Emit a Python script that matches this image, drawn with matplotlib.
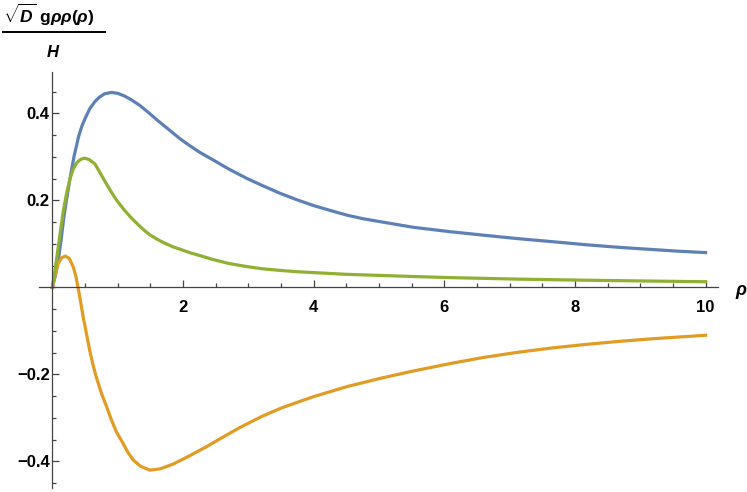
import numpy as np
import matplotlib.pyplot as plt
from matplotlib.lines import Line2D

# values
rho_blue = [0, 0.05, 0.09, 0.13, 0.17, 0.22, 0.27, 0.33, 0.40, 0.45, 0.50, 0.57, 0.65,
            0.72, 0.80, 0.905, 1.0, 1.1, 1.2, 1.34, 1.47, 1.6, 1.78, 1.95, 2.1, 2.26,
            2.46, 2.7, 2.97, 3.2, 3.49, 3.75, 4.0, 4.25, 4.51, 4.75, 5.02, 5.53, 6.09,
            6.6, 7.13, 7.66, 8.17, 8.68, 9.19, 9.6, 10.0]
g_blue = [0, 0.03, 0.063, 0.105, 0.155, 0.205, 0.25, 0.30, 0.346, 0.370, 0.388, 0.410,
          0.427, 0.437, 0.445, 0.448, 0.446, 0.440, 0.432, 0.418, 0.402, 0.385, 0.363,
          0.342, 0.326, 0.310, 0.293, 0.272, 0.251, 0.235, 0.216, 0.201, 0.188, 0.177,
          0.166, 0.158, 0.151, 0.138, 0.128, 0.120, 0.112, 0.105, 0.098, 0.092, 0.087,
          0.083, 0.080]

rho_orange = [0, 0.04, 0.09, 0.14, 0.20, 0.26, 0.32, 0.36, 0.40, 0.44, 0.47, 0.52, 0.57,
              0.62, 0.67, 0.75, 0.83, 0.9, 0.98, 1.08, 1.16, 1.24, 1.35, 1.49, 1.65,
              1.85, 2.1, 2.36, 2.6, 2.87, 3.2, 3.49, 3.75, 4.0, 4.51, 5.02, 5.53, 6.09,
              6.6, 7.13, 7.66, 8.17, 8.68, 9.19, 10.0]
g_orange = [0, 0.028, 0.055, 0.068, 0.072, 0.066, 0.047, 0.025, -0.006, -0.040, -0.067,
            -0.105, -0.144, -0.177, -0.205, -0.243, -0.274, -0.303, -0.332, -0.358,
            -0.380, -0.397, -0.411, -0.420, -0.417, -0.406, -0.387, -0.366, -0.345,
            -0.322, -0.297, -0.278, -0.264, -0.251, -0.228, -0.209, -0.192, -0.175,
            -0.161, -0.149, -0.139, -0.131, -0.124, -0.118, -0.110]

rho_green = [0, 0.05, 0.09, 0.13, 0.17, 0.22, 0.27, 0.32, 0.37, 0.43, 0.49, 0.56, 0.65,
             0.75, 0.85, 0.97, 1.1, 1.2, 1.3, 1.4, 1.49, 1.6, 1.7, 1.85, 1.95, 2.1,
             2.26, 2.46, 2.7, 2.97, 3.2, 3.49, 3.75, 4.0, 4.51, 5.02, 5.53, 6.09, 7.13,
             8.17, 9.19, 10.0]
g_green = [0, 0.05, 0.093, 0.137, 0.178, 0.218, 0.25, 0.272, 0.286, 0.294, 0.297, 0.294,
           0.284, 0.258, 0.232, 0.203, 0.178, 0.161, 0.146, 0.132, 0.121, 0.111, 0.103,
           0.093, 0.088, 0.080, 0.073, 0.064, 0.055, 0.048, 0.043, 0.039, 0.036, 0.034,
           0.030, 0.0275, 0.025, 0.0225, 0.019, 0.0165, 0.0145, 0.013]

xticks = [2, 4, 6, 8, 10]
yticks = [-0.4, -0.2, 0.2, 0.4]
ytick_labels = ['\u22120.4', '\u22120.2', '0.2', '0.4']

plt.rcParams['font.family'] = ['Liberation Sans', 'DejaVu Sans']
plt.rcParams['font.weight'] = 'bold'
plt.rcParams['mathtext.fontset'] = 'custom'
plt.rcParams['mathtext.rm'] = 'Liberation Sans:bold'
plt.rcParams['mathtext.it'] = 'Liberation Sans:italic:bold'
plt.rcParams['mathtext.bf'] = 'Liberation Sans:bold'

W, H = 747, 492
fig = plt.figure(figsize=(W / 100, H / 100), dpi=100)
ax = fig.add_axes([39 / W, 1 - 488 / H, (718 - 39) / W, (488 - 72) / H])

lw = 2.3
ax.plot(rho_blue, g_blue, color='#5E81B5', lw=lw)
ax.plot(rho_orange, g_orange, color='#E19C24', lw=lw)
ax.plot(rho_green, g_green, color='#8FB032', lw=lw)

ax.set_xlim(-0.205, 10.19)
ax.set_ylim(-0.461, 0.495)

axcol = '#444444'
for s in ['top', 'right']:
    ax.spines[s].set_visible(False)
for s in ['left', 'bottom']:
    ax.spines[s].set_position(('data', 0))
    ax.spines[s].set_color(axcol)
    ax.spines[s].set_linewidth(0.9)

ax.set_xticks(xticks)
ax.set_xticks(np.arange(0.5, 10.01, 0.5), minor=True)
ax.set_yticks(yticks)
ax.set_yticklabels(ytick_labels)
ax.set_yticks(np.arange(-0.45, 0.46, 0.05), minor=True)

ax.tick_params(which='both', direction='in', color=axcol, width=0.9, labelsize=12)
ax.tick_params(which='major', length=5)
ax.tick_params(which='minor', length=3)
ax.tick_params(axis='x', which='major', pad=9)
ax.tick_params(axis='y', which='major', pad=2)

# axis labels
fig.text(735 / W, 1 - 295 / H, '\u03c1', fontsize=13, fontstyle='italic',
         fontweight='bold', ha='left', va='baseline')
fig.text(3 / W, 1 - 23 / H, r'$\sqrt{D}\ \mathrm{g}\rho\rho(\rho)$', fontsize=12.5,
         ha='left', va='baseline')
fig.add_artist(Line2D([3 / W, 105 / W], [1 - 32 / H, 1 - 32 / H], color='black',
                      lw=1.4, transform=fig.transFigure))
fig.text(53 / W, 1 - 57 / H, 'H', fontsize=12, fontstyle='italic', fontweight='bold',
         ha='center', va='baseline')

fig.savefig('out.png', dpi=100)
